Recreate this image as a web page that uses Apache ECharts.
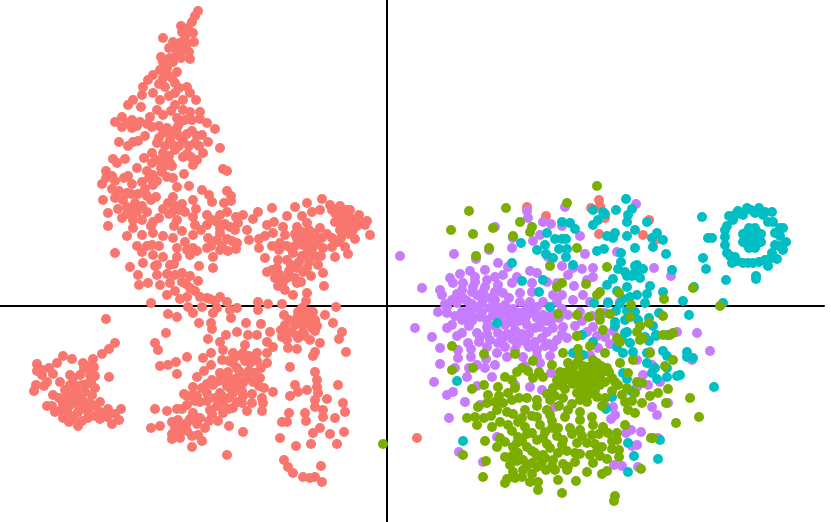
<!DOCTYPE html>
<html><head><meta charset="utf-8">
<style>html,body{margin:0;padding:0;background:#fff}#c{width:831px;height:522px}</style>
<script src="https://cdn.jsdelivr.net/npm/echarts@6/dist/echarts.min.js"></script></head>
<body><div id="c"></div>
<script>
const clusterRedTop = [[-189,295],[-192,290],[-195,284],[-199,278],[-206,280],[-194,273],[-193,264],[-202,269],[-224,268],[-214,264],[-207,263],[-210,253],[-204,256],[-198,254],[-197,247],[-226,249],[-224,244],[-217,248],[-227,236],[-220,238],[-210,234],[-234,231],[-239,226],[-244,219],[-224,228],[-222,219],[-212,223],[-200,219],[-234,213],[-245,211],[-254,206],[-259,201],[-246,199],[-227,206],[-230,196],[-212,213],[-204,206],[-191,206],[-212,201],[-204,196],[-187,194],[-187,187],[-180,183],[-172,177],[-265,189],[-255,186],[-247,184],[-265,179],[-255,178],[-237,189],[-235,179],[-224,191],[-210,188],[-202,186],[-210,178],[-242,170],[-254,164],[-268,164],[-259,160],[-249,165],[-224,173],[-230,163],[-217,166],[-204,166],[-195,175],[-185,171],[-192,163],[-179,164],[-167,158],[-184,153],[-235,153],[-243,148],[-224,153],[-212,156],[-204,149],[-196,149],[-190,146],[-194,141],[-231,146],[-217,143],[-262,147],[-274,147],[-270,143],[-164,137],[-160,135],[-250,138],[-203,132],[-281,135],[-240,135],[-225,134],[-259,130],[-263,128],[-234,131],[-220,129],[-281,128],[-272,125],[-285,122],[-255,122],[-245,124],[-234,121],[-214,128],[-210,119],[-198,120],[-275,117],[-242,117],[-260,113],[-249,112],[-185,116],[-178,111],[-175,104],[-160,115],[-156,110],[-163,103],[-156,105],[-284,106],[-272,108],[-264,106],[-252,103],[-236,106],[-231,109],[-214,109],[-219,103],[-194,106],[-205,102],[-224,97],[-215,94],[-269,97],[-260,99],[-279,93],[-250,94],[-240,94],[-202,94],[-191,97],[-265,88],[-254,86],[-245,86],[-234,84],[-210,86],[-279,80],[-254,78],[-213,80],[-194,89],[-180,91],[-167,91],[-160,94],[-151,89],[-144,91],[-129,94],[-115,98],[-134,87],[-192,81],[-180,81],[-167,78],[-157,79],[-149,83],[-140,76],[-260,70],[-245,71],[-234,73],[-224,70],[-214,68],[-194,71],[-202,64],[-179,68],[-167,73],[-160,67],[-150,63],[-138,66],[-250,60],[-235,61],[-210,58],[-194,58],[-180,58],[-167,56],[-159,55],[-151,57],[-272,53],[-245,54],[-234,51],[-224,49],[-210,49],[-197,51],[-174,49],[-128,58],
[-205,274],[-200,262],[-212,258],[-218,258],[-206,248],[-214,244],[-220,232],[-215,228],[-228,222],[-218,210],[-208,218],[-197,213],[-228,168],[-222,160],[-226,146],[-220,178],[-216,172],[-213,160],[-208,170],[-208,160],[-200,172],[-198,160],[-200,152],[-190,170],[-188,160],[-228,180],[-218,150],[-220,141],[-226,138],[-235,143],[-238,128],[-230,125],[-215,140],[-208,182],[-216,195],[-197,194],[-195,186],[-240,182],[-250,180],[-260,183],[-272,184],[-275,130],[-268,115],[-256,112],[-252,96],[-245,100],[-255,92],[-236,80],[-228,88],[-260,92],[-240,110],[-212,100],[-218,92],[-208,96],[-175,86],[-170,84],[-162,82],[-152,76],[-186,76],[-165,60],[-155,65],[-170,66],[-176,60],[-200,56],[-190,55],[-205,75],[-240,60],[-228,60]];
const clusterRedRight = [[-65,107],[-80,103],[-92,99],[-57,101],[-47,100],[-37,96],[-28,91],[-20,85],[-22,81],[-17,71],[-32,67],[-75,94],[-67,96],[-52,93],[-42,89],[-52,84],[-42,81],[-34,76],[-47,76],[-100,90],[-85,90],[-80,83],[-120,81],[-113,84],[-104,79],[-90,79],[-67,78],[-74,73],[-114,73],[-122,70],[-128,67],[-102,71],[-90,68],[-80,68],[-65,68],[-115,60],[-107,63],[-95,56],[-84,61],[-74,59],[-64,58],[-55,59],[-49,64],[-42,59],[-39,52],[-80,53],[-52,49],[-122,48],[-109,46],[-100,46],[-94,53],[-120,34],[-110,38],[-96,41],[-84,34],[-69,41],[-64,33],[-63,20],[-107,31],[-109,20],[-102,16],[-90,23],[-94,11],[-80,13],[-81,5],[-51,-1],[-89,-6],[-74,-6],[-82,-9],[-103,-9],[-62,-9],[-54,-17],[-102,-19],[-92,-19],[-81,-17],[-72,-14],[-105,-31],[-95,-26],[-84,-26],[-75,-22],[-89,-32],[-77,-34],[-45,-26],[-48,-33],[-67,-37],[-99,-42],[-90,-43],[-72,-46],[-41,-46],[-74,-50],[-97,-61],[-72,-66],[-70,-74],[-70,-81],[-49,-79],[-92,-79],[-80,-84],[-89,-86],[-97,-90],[-69,-87],[-60,-93],[-72,-94],[-44,-97],[-72,-101],[-64,-104],[-42,-106],[-98,-107],[-82,-107],[-52,-112],[-64,-111],[-81,-115],[-100,-116],[-105,-116],[-67,-122],[-74,-127],[-57,-128],[-43,-126],[-107,-132],[-91,-140],[-76,-138],[-50,-138],[-103,-154],[-99,-161],[-94,-167],[-84,-171],[-72,-171],[-77,-172],[-66,-160],[-65,-176],
[-92,72],[-85,74],[-78,76],[-72,70],[-86,64],[-78,62],[-70,64],[-92,60],[-85,50],[-78,44],[-72,50],[-66,50],[-88,44],[-80,38],[-90,38],[-76,30],[-98,35],[-92,28],[-86,24],[-100,28],[-115,36],[-112,28],[-104,24],[-100,60],[-108,56],[-60,72],[-55,68],[-50,96],[-45,92],[-38,90],[-33,86],[-40,96],[-55,96],[-48,86],[-44,76],[-38,72],[-30,80],[-36,82],[-46,68],[-26,84],[-98,-14],[-90,-12],[-85,-18],[-78,-12],[-70,-20],[-106,-24],[-98,-26],[-90,-30],[-82,-30],[-78,-6],[-85,-2],[-72,-25],[-100,-34]];
const clusterRedMid = [[-257,39],[-244,43],[-230,41],[-217,41],[-249,31],[-230,31],[-205,33],[-212,31],[-248,21],[-239,23],[-227,21],[-217,23],[-205,24],[-189,25],[-197,18],[-188,40],[-174,38],[-220,11],[-236,3],[-207,7],[-200,9],[-187,9],[-177,7],[-167,9],[-160,4],[-199,-1],[-185,-1],[-170,-2],[-157,-4],[-129,4],[-119,2],[-129,-4],[-105,2],[-219,-8],[-210,-11],[-194,-7],[-188,-17],[-174,-7],[-156,-12],[-176,-17],[-175,-23],[-141,-17],[-126,-18],[-150,-26],[-117,-26],[-161,-29],[-139,-29],[-130,-29],[-179,-33],[-167,-36],[-221,-27],[-232,-37],[-229,-44],[-120,-36],[-142,-39],[-114,-41],[-164,-44],[-176,-47],[-154,-47],[-130,-47],[-120,-47],[-144,-47],[-200,-51],[-184,-52],[-165,-54],[-154,-57],[-137,-57],[-120,-57],[-227,-60],[-211,-56],[-219,-59],[-176,-59],[-183,-65],[-159,-66],[-147,-66],[-167,-67],[-132,-67],[-210,-68],[-190,-71],[-175,-74],[-164,-72],[-154,-74],[-140,-72],[-127,-72],[-144,-77],[-174,-79],[-123,-82],[-194,-81],[-185,-82],[-157,-82],[-114,-86],[-203,-88],[-194,-89],[-180,-87],[-167,-87],[-154,-87],[-144,-90],[-125,-92],[-187,-96],[-164,-97],[-150,-96],[-135,-97],[-124,-97],[-200,-99],[-210,-103],[-220,-105],[-232,-103],[-194,-107],[-177,-104],[-164,-107],[-154,-102],[-140,-105],[-125,-105],[-209,-114],[-200,-117],[-187,-112],[-169,-115],[-227,-120],[-236,-122],[-212,-122],[-182,-122],[-158,-120],[-144,-126],[-207,-132],[-215,-133],[-189,-129],[-185,-135],[-195,-141],[-160,-149],
[-232,40],[-213,42],[-220,32],[-197,30],[-201,22],[-212,15],[-192,15],[-180,8],[-172,5],[-150,-2],[-158,-55],[-150,-50],[-150,-62],[-142,-55],[-138,-65],[-158,-72],[-150,-72],[-148,-80],[-138,-50],[-130,-55],[-126,-62],[-134,-76],[-128,-80],[-160,-80],[-168,-75],[-180,-78],[-165,-90],[-172,-92],[-158,-92],[-145,-85],[-190,-90],[-180,-95],[-170,-100],[-158,-103],[-145,-97],[-135,-88],[-200,-90],[-175,-108],[-192,-95],[-205,-103],[-197,-113],[-205,-120],[-215,-116],[-190,-118],[-178,-115],[-215,-128],[-200,-125],[-195,-130],[-208,-125]];
const clusterRedLeft = [[-350,-58],[-345,-64],[-345,-69],[-334,-68],[-330,-57],[-324,-50],[-315,-53],[-294,-53],[-285,-48],[-278,-43],[-272,-37],[-281,-13],[-304,-57],[-293,-61],[-278,-71],[-317,-69],[-307,-69],[-297,-69],[-327,-76],[-317,-79],[-305,-79],[-351,-79],[-343,-80],[-353,-85],[-292,-82],[-334,-89],[-320,-87],[-309,-89],[-295,-89],[-287,-96],[-340,-100],[-324,-98],[-312,-97],[-300,-97],[-332,-106],[-320,-106],[-309,-106],[-299,-106],[-287,-106],[-279,-103],[-266,-103],[-324,-112],[-314,-112],[-299,-112],[-287,-113],[-280,-111],[-268,-114],[-275,-118],[-309,-120],
[-314,-72],[-303,-62],[-298,-60],[-310,-80],[-300,-78],[-322,-84],[-312,-85],[-302,-86],[-318,-92],[-304,-95],[-296,-98],[-318,-100],[-305,-102],[-292,-100],[-326,-104],[-315,-110],[-292,-110],[-340,-76],[-335,-100],[-328,-92],[-296,-76],[-292,-70],[-350,-65],[-338,-62],[-305,-115],[-318,-116],[-280,-108],[-272,-108]];
const redStray = [[140,99],[159,90],[204,98],[212,106],[213,100],[218,88],[212,72],[262,86],[256,71],[268,66],[30,-132]];
const purpleUpper = [[13,50],[67,52],[89,47],[108,79],[102,56],[140,95],[141,88],[156,84],[164,82],[153,71],[126,68],[125,58],[146,65],[175,80],[178,99],[193,70],[249,102],[230,54],[198,52],[161,49],[267,38],[284,30],[206,38],[195,37],[186,38],[175,40],[181,31],[206,29],[200,26],[187,20],[160,24],[170,23],[111,43],[121,39],[143,35],[150,33],[73,32],[83,35],[98,36],[63,28],[66,23],[35,18],[53,16],[55,11],[76,23],[88,29],[108,29],[116,31],[130,29],[145,23],[86,19],[98,19],[111,21],[125,23],[65,6],[76,8],[90,11],[103,8],[116,13],[133,13],[145,14],[166,11],[175,11],[196,11],[186,6],[203,4],[221,4],[233,4],[133,4],[143,4],[156,4],[170,4]];
const purpleMiddle = [[51,-6],[60,-7],[75,-6],[90,-2],[106,-9],[120,-4],[133,-7],[146,-6],[156,-9],[181,-9],[193,-6],[218,-7],[28,-22],[45,-31],[65,-19],[60,-22],[78,-12],[93,-11],[75,-27],[90,-27],[100,-21],[111,-27],[126,-17],[140,-19],[153,-21],[166,-22],[176,-21],[206,-21],[200,-26],[226,-25],[290,-26],[310,-27],[218,-31],[80,5],[95,3],[110,-1],[122,8],[138,-14],[150,-12],[160,-15],[118,-19],[128,-24],[142,-28],[155,-32],[170,-34],[130,-38],[142,-41],[100,-14],[85,-15],[70,3],[58,2],[82,-4],[165,-8],[175,-3],[150,-1],[128,-11],[112,-13],
[60,-1],[68,-10],[75,-14],[85,-10],[95,-6],[103,-2],[85,2],[95,8],[108,6],[118,1],[126,-3],[140,-2],[148,-8],[155,-14],[165,-14],[172,-12],[140,-9],[132,-15],[122,-12],[115,-8],[108,-20],[100,-28],[120,-28],[135,-28],[148,-22],[160,-26],[125,-33],[135,-34],[148,-36],[162,-38],[115,-34],[75,16],[85,14],[96,14],[108,14],[88,24],[100,26],[70,12],[82,-20],[70,-30],[92,-36],[103,-34],[84,-43],[118,-41],[128,-44],[150,-50],[158,-40],[175,-28],[188,-20],[195,-15],[205,-10],[210,-30]];
const purpleLower = [[53,-42],[71,-44],[71,-52],[81,-37],[93,-31],[100,-41],[111,-37],[110,-47],[126,-31],[140,-37],[150,-44],[166,-41],[180,-32],[84,-51],[53,-58],[68,-62],[82,-62],[90,-59],[99,-53],[108,-59],[120,-51],[136,-51],[138,-60],[153,-57],[163,-50],[98,-62],[105,-71],[80,-71],[47,-76],[90,-80],[66,-86],[60,-89],[78,-96],[62,-112],[93,-99],[128,-79],[143,-81],[155,-84],[168,-101],[164,-67],[203,-49],[211,-42],[218,-31],[223,-38],[250,-54],[265,-59],[256,-69],[273,-76],[261,-79],[250,-81],[263,-46],[305,-54],[323,-45],[217,-98],[226,-101],[228,-109],[224,-113],[265,-101],[270,-109],[281,-97],[244,-124],[239,-127],[254,-126],[245,-140],[250,-139],[271,-132],[227,-159],[235,-160],[251,-161],[72,-146],[110,-131],[96,-156]];
const cyanRing = [[365,68],[358,68],[372,68],[365,75],[365,61],[360,62],[370,62],[360,74],[370,74],[356,72],[374,72],[356,64],[374,64],[362,78],[368,78],[362,58],[368,58],[342,90],[351,95],[360,98],[372,98],[376,91],[385,94],[386,84],[396,78],[388,73],[399,64],[388,61],[396,56],[385,53],[390,47],[378,46],[381,40],[366,43],[356,43],[345,43],[348,49],[340,53],[338,61],[338,69],[338,76],[346,86],[356,91],[368,93],[381,84],[393,78],[369,30],[369,27],[349,92],[364,96],[393,70],[392,60],[384,48],[372,44],[361,43],[350,45],[343,50],[340,80],[347,90],[378,94]];
const cyanScatter = [[339,26],[319,37],[316,48],[321,68],[325,68],[315,89],[336,3],[302,-9],[296,5],[307,19],[276,14],[285,36],[279,52],[276,66],[270,73],[265,68],[266,59],[248,58],[248,76],[240,70],[228,73],[226,68],[220,70],[217,57],[210,55],[234,53],[234,44],[231,37],[250,41],[248,34],[256,37],[240,30],[253,28],[226,27],[220,21],[240,19],[263,20],[243,9],[250,11],[260,12],[258,3],[233,2],[221,3],[207,3],[248,-6],[238,-14],[228,-16],[262,-12],[272,-7],[240,-26],[269,-30],[281,-29],[239,107],[245,97],[241,91],[240,84],[229,96],[216,94],[206,96],[218,92],[211,86],[206,81],[260,84],[175,84],[183,83],[188,77],[160,73],[168,67],[179,67],[175,67],[158,61],[150,56],[134,63],[172,57],[180,57],[179,49],[159,52],[166,48],[125,43],[186,41],[135,25],[156,26],[152,14],[110,-17],[163,-1],[248,40],[245,30],[238,34],[230,15],[236,7],[229,-5],[251,-14],[240,-5],[228,-20],[235,-33]];
const cyanLower = [[70,-75],[76,-135],[186,-47],[196,-49],[206,-36],[195,-29],[238,-27],[230,-41],[243,-37],[258,-31],[269,-29],[281,-29],[236,-47],[246,-46],[260,-47],[276,-45],[300,-46],[300,-51],[306,-52],[260,-57],[236,-67],[240,-73],[265,-67],[270,-73],[280,-71],[290,-70],[293,-69],[327,-81],[244,-85],[225,-91],[219,-103],[241,-137],[273,-134],[247,-150],[271,-153],[241,-166],[262,-35],[280,-50],[266,-20],[268,-62],[280,-62]];
const greenUpper = [[210,120],[180,103],[119,98],[82,95],[64,76],[86,72],[133,84],[106,78],[145,79],[143,74],[126,70],[102,58],[89,50],[190,58],[163,40],[220,39],[175,23],[170,19],[199,22],[213,14],[210,11],[232,13],[277,7],[306,18],[333,0],[244,1],[276,-10],[262,-17],[253,-20],[250,-26],[286,-27],[276,-29],[223,-8],[213,-7],[213,-14],[202,-11],[216,-24],[190,-30],[171,-8],[190,-9],[243,-11],[256,-32],[230,-32]];
const greenHub = [[180,-66],[190,-57],[200,-61],[210,-57],[220,-62],[183,-74],[193,-69],[203,-69],[213,-69],[225,-72],[193,-79],[203,-79],[213,-79],[231,-79],[170,-74],[173,-66],[166,-82],[178,-83],[190,-87],[201,-89],[241,-67],[250,-76],[255,-77],[186,-62],[196,-64],[206,-64],[216,-66],[188,-72],[198,-74],[208,-74],[218,-76],[198,-84],[208,-84],[176,-70],[186,-68],[196,-60],[206,-54],[214,-60],[222,-66],[228,-76],[186,-78],[176,-76],[196,-88],[206,-60],[192,-52],[181,-57],[175,-80]];
const greenLower = [[65,-40],[97,-48],[128,-48],[65,-64],[86,-62],[97,-79],[85,-83],[101,-89],[111,-81],[118,-71],[130,-66],[141,-65],[146,-55],[146,-72],[156,-71],[165,-59],[176,-47],[190,-30],[191,-43],[203,-40],[218,-47],[233,-36],[253,-34],[233,-57],[246,-54],[278,-60],[286,-54],[263,-47],[283,-29],[128,-82],[121,-87],[140,-92],[125,-94],[116,-97],[100,-97],[91,-101],[110,-104],[120,-106],[138,-104],[150,-94],[163,-94],[176,-92],[193,-94],[210,-91],[235,-89],[238,-96],[241,-104],[248,-107],[255,-97],[263,-90],[271,-87],[281,-83],[248,-87],[279,-97],[303,-92],[312,-111],[289,-117],[238,-119],[80,-112],[88,-111],[97,-112],[90,-119],[105,-121],[113,-116],[121,-119],[131,-116],[138,-121],[150,-111],[163,-109],[153,-119],[165,-122],[181,-104],[193,-106],[178,-111],[193,-114],[205,-111],[206,-119],[216,-121],[193,-124],[183,-122],[171,-122],[145,-127],[131,-131],[113,-132],[118,-136],[98,-135],[110,-141],[130,-137],[156,-132],[176,-134],[190,-137],[200,-137],[205,-129],[221,-127],[230,-127],[230,-134],[215,-141],[225,-143],[232,-144],[232,-151],[126,-141],[140,-141],[163,-142],[175,-139],[118,-151],[131,-147],[148,-147],[156,-149],[171,-147],[193,-148],[203,-149],[213,-150],[220,-153],[76,-149],[99,-155],[136,-154],[123,-159],[145,-157],[158,-152],[166,-154],[188,-156],[206,-157],[181,-161],[180,-164],[126,-166],[136,-164],[150,-161],[159,-164],[168,-164],[200,-166],[220,-165],[215,-168],[254,-163],[96,-171],[120,-173],[118,-177],[135,-171],[143,-176],[151,-176],[171,-174],[189,-175],[151,-184],[175,-187],[228,-190],[227,-195],[266,-132],[264,-132],[-4,-138],
[160,-88],[168,-90],[172,-100],[160,-104],[150,-100],[145,-110],[135,-112],[126,-108],[108,-96],[104,-110],[112,-90],[132,-92],[125,-74],[135,-62],[152,-66],[185,-98],[200,-96],[215,-100],[225,-85],[218,-92],[240,-82],[245,-95],[165,-115],[158,-126],[170,-130],[150,-134],[140,-128],[125,-125],[185,-128],[195,-130],[212,-128],[225,-135],[208,-138],[150,-150],[140,-160],[130,-155],[128,-172],[145,-168],[155,-156],[165,-160],[210,-145],[188,-147],[180,-145],[160,-138],[135,-135],[145,-145],[125,-150],[176,-158]];

const red = [...clusterRedTop, ...clusterRedRight, ...clusterRedMid, ...clusterRedLeft, ...redStray];
const purple = [...purpleUpper, ...purpleMiddle, ...purpleLower];
const cyan = [...cyanRing, ...cyanScatter, ...cyanLower];
const green = [...greenUpper, ...greenHub, ...greenLower];
const groups = [['A', red, '#F8766D'], ['D', purple, '#C77CFF'], ['C', cyan, '#00BFC4'], ['B', green, '#7CAE00']];

const chart = echarts.init(document.getElementById('c'), null, {renderer: 'canvas'});
const bare = {axisTick: {show: false}, axisLabel: {show: false}, splitLine: {show: false},
  axisLine: {show: true, onZero: true, lineStyle: {color: '#000', width: 2}}};
chart.setOption({
  animation: false,
  backgroundColor: '#fff',
  grid: {left: 0, top: 0, width: 824, height: 522},
  xAxis: {type: 'value', min: -387, max: 437, ...bare},
  yAxis: {type: 'value', min: -216, max: 306, ...bare},
  series: groups.map(([name, data, color]) => ({
    name, type: 'scatter', data, symbolSize: 10, clip: false,
    itemStyle: {color, opacity: 1}
  }))
});
</script></body></html>
